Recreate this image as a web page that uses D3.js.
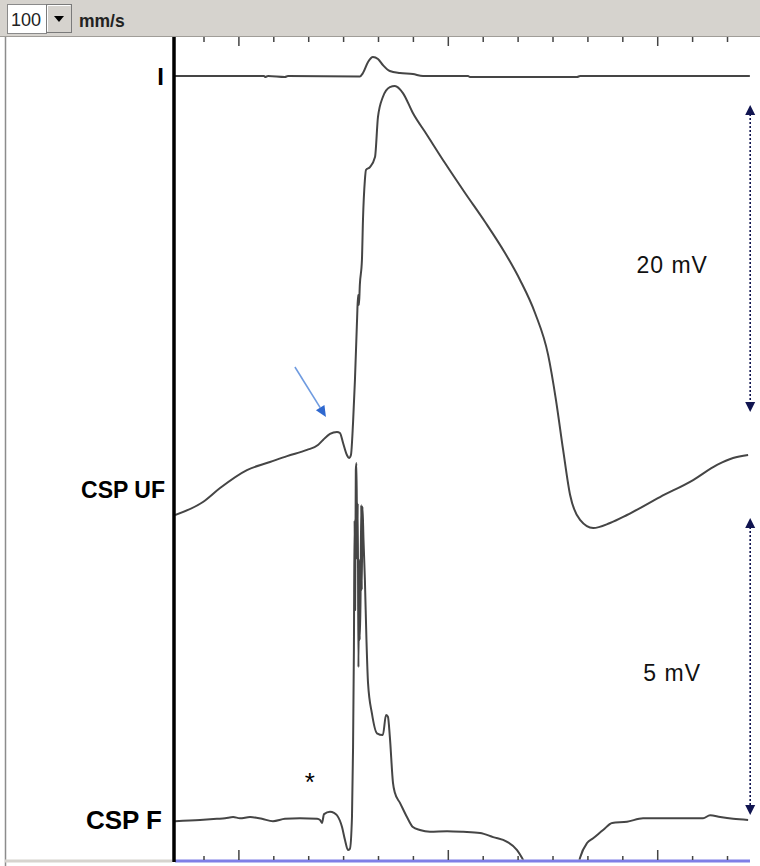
<!DOCTYPE html>
<html>
<head>
<meta charset="utf-8">
<script src="https://cdn.jsdelivr.net/npm/d3@7"></script>
<style>
  html, body { margin: 0; padding: 0; background: #fff; }
  svg { display: block; }
</style>
</head>
<body>
<svg id="chart" width="760" height="866"></svg>
<script>
// ---------------- DATA ----------------
// time in ms, amplitude in mV (relative to channel baseline)
const sweepSpeed = "100";
const sweepUnit = "mm/s";
const channelLabels = ["I", "CSP UF", "CSP F"];
const timeTicks = d3.range(20, 340, 20);      // ms
const majorTickEvery = 120;                    // ms

const leadI = [
  [3.4,0],[54.4,0],[55,-0.05],[56.7,0],[66.4,-0.05],[68.1,0],[109.3,-0.02],
  [111.1,0.15],[114.0,0.7],[116.8,0.95],[119.7,0.85],[122.5,0.55],[126.5,0.25],
  [132.3,0.15],[139.7,0.1],[145.5,0],[171.3,0],[172.4,-0.05],[233.8,-0.05],
  [235.5,0],[332.8,0]
];

const cspUF = [
  [3.4,-1.63],[19.4,-0.78],[29.2,0.13],[44.6,1.30],[57.8,1.82],[67.6,2.21],
  [79.0,2.61],[85.3,2.93],[88.2,3.26],[92.2,3.65],[96.2,3.78],[97.9,3.71],
  [99.7,3.06],[101.9,2.28],[103.1,2.08],[104.2,2.28],[105.4,4.36],[106.5,7.17],
  [107.7,11.07],[108.3,12.70],[108.8,12.05],[109.3,13.36],[110.5,14.98],
  [111.1,17.59],[112.2,20.20],[112.8,20.85],[115.1,21.04],[118.0,21.69],
  [119.7,24.30],[122.5,25.60],[126.5,26.25],[129.4,26.32],[134.0,25.86],
  [139.7,24.56],[147.8,23.13],[158.1,21.30],[169.6,19.35],[181.1,17.46],
  [192.5,15.44],[201.1,13.68],[209.7,11.53],[217.2,8.80],[221.7,5.86],
  [225.8,2.61],[229.8,-0.33],[235.5,-1.95],[243.0,-2.48],[252.7,-2.15],
  [262.4,-1.63],[281.3,-0.46],[300.3,0.65],[314.0,1.63],[323.2,2.08],[331.8,2.28]
];

const cspF = [
  [3.4,-0.02],[17.7,0],[27.5,0.02],[32.1,0.03],[36.7,0.05],[40.6,0.03],
  [46.4,0.05],[53.2,0.02],[59.5,-0.02],[66.4,0.02],[75.0,0.03],[84.8,0.02],
  [86.5,0],[87.6,-0.05],[88.8,0.10],[92.2,0.14],[94.5,0.12],[96.2,0.08],
  [99.1,-0.12],[100.8,-0.34],[102.5,-0.51],[103.6,-0.49],[104.8,0.05],
  [105.4,1.19],[105.9,2.88],[106.3,5.08],[106.6,3.56],[107.0,5.93],[107.4,6.05],
  [107.8,4.41],[108.1,5.37],[108.5,2.59],[109.0,4.41],[109.2,3.05],[109.7,3.73],
  [110.1,5.34],[110.4,3.90],[110.8,5.31],[111.4,4.75],[112.2,4.07],[113.1,3.05],
  [114.0,2.32],[116.2,1.81],[119.1,1.47],[122.5,1.44],[124.3,1.78],[125.4,1.75],
  [126.5,1.41],[128.3,0.63],[129.4,0.46],[132.3,0.29],[136.3,0.05],[139.7,-0.12],
  [143.7,-0.17],[149.5,-0.20],[159.3,-0.19],[168.5,-0.20],[178.2,-0.22],
  [185.7,-0.29],[193.7,-0.37],[199.4,-0.51],[202.2,-0.64],[209.7,-1.10],
  [221.2,-1.27],[232.7,-1.02],[235.5,-0.64],[239.5,-0.39],[243.0,-0.31],
  [248.7,-0.17],[253.9,-0.05],[262.4,-0.03],[271.6,0.03],[291.1,0.03],
  [306.0,0.03],[310.0,0.08],[315.8,0.05],[323.2,0.02],[331.8,0]
];

// calibration bars: [channel index, from mV, to mV, label]
const calBars = [
  [1, 5.08, 25.08, "20 mV"],
  [2, 0.085, 5.12, "5 mV"]
];
// annotations: arrow on CSP UF (from -> to, in ms/mV), asterisk on CSP F
const arrowAnno = { ch: 1, from: [72.1, 8.01], to: [89.9, 4.76] };
const starAnno = { ch: 2, at: [80.7, 0.76], text: "*" };

// ---------------- LAYOUT ----------------
const svg = d3.select("#chart");
const W = 760, H = 866;
const toolbarH = 37;
const plotL = 175, plotR = 752, plotB = 861;
const FONT = "Liberation Sans, Arial, Helvetica, sans-serif";

const x = d3.scaleLinear().domain([0, 333]).range([169.1, 750.2]);
const yScales = [
  d3.scaleLinear().domain([0, 1]).range([76, 56]),
  d3.scaleLinear().domain([0, 20]).range([490, 183]),
  d3.scaleLinear().domain([0, 5]).range([820, 525])
];
const traces = [leadI, cspUF, cspF];

// background
svg.append("rect").attr("width", W).attr("height", H).attr("fill", "#fff");

// toolbar
svg.append("rect").attr("x", 0).attr("y", 0).attr("width", W).attr("height", toolbarH)
  .attr("fill", "#d6d3ce");
svg.append("line").attr("x1", 0).attr("x2", W).attr("y1", toolbarH - 0.5).attr("y2", toolbarH - 0.5)
  .attr("stroke", "#a09d98").attr("stroke-width", 1);
// input box
svg.append("rect").attr("x", 7.5).attr("y", 4.5).attr("width", 39).attr("height", 29)
  .attr("fill", "#fff").attr("stroke", "#8a8a8a");
svg.append("text").attr("x", 11).attr("y", 26).text(sweepSpeed)
  .attr("font-family", FONT).attr("font-size", 18).attr("fill", "#222");
// dropdown button
svg.append("rect").attr("x", 46.5).attr("y", 4.5).attr("width", 25).attr("height", 28)
  .attr("fill", "#d6d3ce").attr("stroke", "#7a7a7a");
svg.append("path").attr("d", "M47.5,31.5 V5.5 H70.5").attr("fill", "none").attr("stroke", "#fff");
svg.append("path").attr("d", "M54,16 L64,16 L59,22 Z").attr("fill", "#000");
svg.append("text").attr("x", 79).attr("y", 27).text(sweepUnit)
  .attr("font-family", FONT).attr("font-size", 17.5)
  .attr("font-weight", "bold").attr("fill", "#222");

// left border line
svg.append("line").attr("x1", 5.5).attr("x2", 5.5).attr("y1", toolbarH).attr("y2", H)
  .attr("stroke", "#8c8c8c").attr("stroke-width", 1.5);
// bottom strips
svg.append("line").attr("x1", 5).attr("x2", 172).attr("y1", plotB).attr("y2", plotB)
  .attr("stroke", "#d6d3ce").attr("stroke-width", 3);
svg.append("line").attr("x1", plotL).attr("x2", 750).attr("y1", plotB).attr("y2", plotB)
  .attr("stroke", "#7f7fe6").attr("stroke-width", 3);

// ticks (top and bottom)
const tickG = svg.append("g");
tickG.selectAll("line.top").data(timeTicks).enter().append("line")
  .attr("x1", d => x(d)).attr("x2", d => x(d))
  .attr("y1", toolbarH).attr("y2", d => toolbarH + (d % majorTickEvery === 40 ? 9 : 5))
  .attr("stroke", "#444").attr("stroke-width", 1.5);
tickG.selectAll("line.bot").data(timeTicks).enter().append("line")
  .attr("x1", d => x(d)).attr("x2", d => x(d))
  .attr("y1", plotB - 1).attr("y2", d => plotB - 1 - (d % majorTickEvery === 40 ? 10 : 4))
  .attr("stroke", "#444").attr("stroke-width", 1.5);

// channel labels
svg.selectAll("text.lab").data(channelLabels).enter().append("text")
  .attr("x", (d, i) => [164, 165, 162][i])
  .attr("y", (d, i) => yScales[i](0))
  .attr("dy", "0.36em")
  .attr("text-anchor", "end")
  .attr("font-family", FONT)
  .attr("font-weight", "bold").attr("font-size", (d, i) => [24, 23, 26][i]).attr("fill", "#000")
  .text(d => d);

// clip
svg.append("clipPath").attr("id", "plotclip").append("rect")
  .attr("x", plotL).attr("y", toolbarH).attr("width", plotR - plotL).attr("height", plotB - 1.5 - toolbarH);

// traces
const traceG = svg.append("g").attr("clip-path", "url(#plotclip)");
traces.forEach((tr, i) => {
  const line = d3.line().x(d => x(d[0])).y(d => yScales[i](d[1])).curve(d3.curveMonotoneX);
  traceG.append("path").datum(tr).attr("d", line)
    .attr("fill", "none").attr("stroke", "#454545").attr("stroke-width", 2)
    .attr("stroke-linejoin", "round");
});

// thick vertical bar
svg.append("line").attr("x1", 174).attr("x2", 174).attr("y1", toolbarH).attr("y2", plotB + 1)
  .attr("stroke", "#000").attr("stroke-width", 3.5);

// calibration bars
const navy = "#101450";
calBars.forEach(([ch, a, b, lab]) => {
  const y = yScales[ch];
  const xb = x(333);
  const yTop = y(b), yBot = y(a);
  svg.append("line").attr("x1", xb).attr("x2", xb).attr("y1", yTop + 9).attr("y2", yBot - 9)
    .attr("stroke", navy).attr("stroke-width", 1.6).attr("stroke-dasharray", "2,2");
  svg.append("path").attr("d", `M${xb},${yTop} L${xb - 5},${yTop + 10} L${xb + 5},${yTop + 10} Z`).attr("fill", navy);
  svg.append("path").attr("d", `M${xb},${yBot} L${xb - 5},${yBot - 10} L${xb + 5},${yBot - 10} Z`).attr("fill", navy);
  svg.append("text").attr("x", xb - 78).attr("y", (yTop + yBot) / 2 + 6)
    .attr("dy", "0.36em").attr("text-anchor", "middle")
    .attr("font-family", FONT).attr("font-size", 23).attr("letter-spacing", 1)
    .attr("fill", "#111").text(lab);
});

// blue arrow annotation
{
  const y = yScales[arrowAnno.ch];
  const x1 = x(arrowAnno.from[0]), y1 = y(arrowAnno.from[1]);
  const x2 = x(arrowAnno.to[0]), y2 = y(arrowAnno.to[1]);
  const ang = Math.atan2(y2 - y1, x2 - x1);
  const hl = 11, hw = 5;
  const bx = x2 - hl * Math.cos(ang), by = y2 - hl * Math.sin(ang);
  svg.append("line").attr("x1", x1).attr("y1", y1).attr("x2", bx).attr("y2", by)
    .attr("stroke", "#6f9be0").attr("stroke-width", 1.6);
  const px = -Math.sin(ang) * hw, py = Math.cos(ang) * hw;
  svg.append("path").attr("d", `M${x2},${y2} L${bx + px},${by + py} L${bx - px},${by - py} Z`)
    .attr("fill", "#2f68cf");
}
// asterisk
svg.append("text").attr("x", x(starAnno.at[0])).attr("y", yScales[starAnno.ch](starAnno.at[1]))
  .attr("dy", "0.62em").attr("text-anchor", "middle")
  .attr("font-family", FONT).attr("font-size", 26)
  .attr("fill", "#000").text(starAnno.text);
</script>
</body>
</html>
